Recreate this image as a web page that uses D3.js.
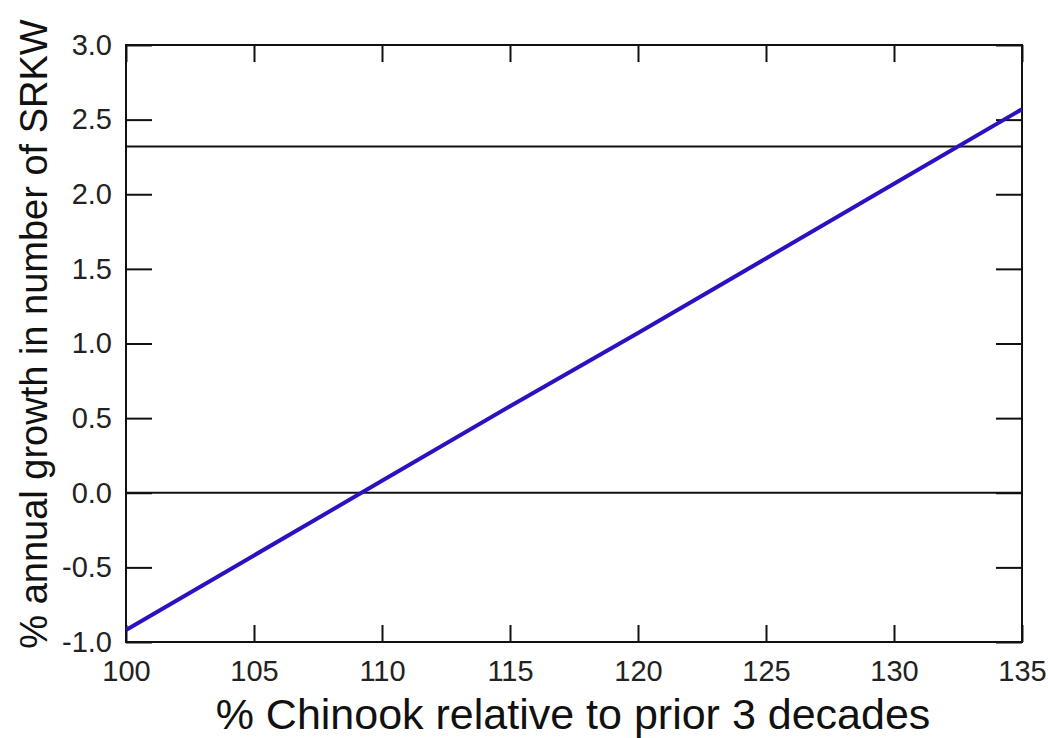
<!DOCTYPE html>
<html><head><meta charset="utf-8">
<script src="https://cdn.jsdelivr.net/npm/d3@7"></script>
<style>body{margin:0;background:#fff}svg{display:block}</style>
</head><body>
<svg id="c" width="1048" height="738"></svg>
<script>
const chinookPct = [100, 105, 110, 115, 120, 125, 130, 135];
const srkwGrowth = [-0.92, -0.42, 0.08, 0.58, 1.07, 1.57, 2.07, 2.57];
const refLines = [0, 2.32];
const xTicks = [100, 105, 110, 115, 120, 125, 130, 135];
const yTicks = [-1.0, -0.5, 0.0, 0.5, 1.0, 1.5, 2.0, 2.5, 3.0];
const xTitle = "% Chinook relative to prior 3 decades";
const yTitle = "% annual growth in number of SRKW";

const svg = d3.select("#c");
const L = 126, R = 1022, T = 45, B = 642;
const x = d3.scaleLinear().domain([100, 135]).range([L, R]);
const y = d3.scaleLinear().domain([-1, 3]).range([B, T]);
const font = "'Liberation Sans', Arial, sans-serif";

// reference lines
svg.selectAll(".ref").data(refLines).enter().append("line")
  .attr("x1", L).attr("x2", R).attr("y1", d => y(d)).attr("y2", d => y(d))
  .attr("stroke", "#111").attr("stroke-width", 2);

// axes with inward ticks
const axB = d3.axisBottom(x).tickValues(xTicks).tickSize(-17).tickFormat(d3.format("d")).tickPadding(18);
const axT = d3.axisTop(x).tickValues(xTicks).tickSize(-17).tickFormat("");
const axL = d3.axisLeft(y).tickValues(yTicks).tickSize(-26)
  .tickFormat(d => d3.format(".1f")(d).replace("\u2212", "-")).tickPadding(14);
const axR = d3.axisRight(y).tickValues(yTicks).tickSize(-26).tickFormat("");

function style(g){
  g.select(".domain").remove();
  g.selectAll(".tick line").attr("stroke", "#111").attr("stroke-width", 2);
  g.selectAll("text").attr("font-family", font).attr("font-size", 29).attr("fill", "#222");
}
svg.append("g").attr("transform", `translate(0,${B})`).call(axB).call(style);
svg.append("g").attr("transform", `translate(0,${T})`).call(axT).call(style);
svg.append("g").attr("transform", `translate(${L},0)`).call(axL).call(style);
svg.append("g").attr("transform", `translate(${R},0)`).call(axR).call(style);

// frame
svg.append("rect").attr("x", L).attr("y", T).attr("width", R - L).attr("height", B - T)
  .attr("fill", "none").attr("stroke", "#111").attr("stroke-width", 2);

// data line
const pts = chinookPct.map((v, i) => [v, srkwGrowth[i]]);
svg.append("path").datum(pts)
  .attr("d", d3.line().x(d => x(d[0])).y(d => y(d[1])))
  .attr("fill", "none").attr("stroke", "#2f10c0").attr("stroke-width", 4);

// titles
svg.append("text").attr("x", 573).attr("y", 729)
  .attr("text-anchor", "middle")
  .attr("font-family", font).attr("font-size", 43)
  .attr("fill", "#111").text(xTitle);
svg.append("text").attr("transform", `translate(47,334) rotate(-90)`)
  .attr("text-anchor", "middle")
  .attr("font-family", font).attr("font-size", 38)
  .attr("fill", "#111").text(yTitle);
</script>
</body></html>
